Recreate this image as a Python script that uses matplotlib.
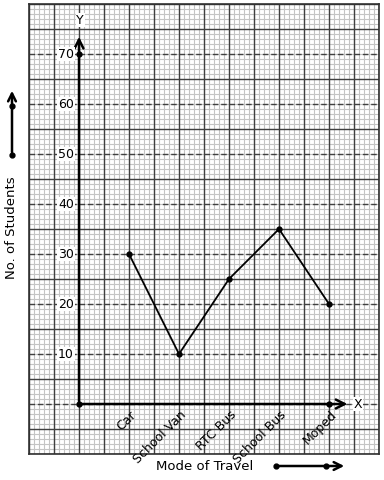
import matplotlib.pyplot as plt
import numpy as np

modes = ['Car', 'School Van', 'RTC Bus', 'School Bus', 'Moped']
students = [30, 10, 25, 35, 20]
positions = [2, 4, 6, 8, 10]
y_labels = [10, 20, 30, 40, 50, 60, 70]

fig = plt.figure(figsize=(3.84, 4.8), dpi=100)

# overlay in pixel coords for the side arrows
ov = fig.add_axes([0, 0, 1, 1])
ov.set_xlim(0, 384)
ov.set_ylim(480, 0)
ov.axis('off')

ax = fig.add_axes([29/384, 26/480, 350/384, 450/480])
ax.set_xlim(-2, 12)
ax.set_ylim(-10, 80)
ax.set_xticks([])
ax.set_yticks([])
for s in ax.spines.values():
    s.set_color('#303030')
    s.set_linewidth(1.2)

# graph paper
for x in np.arange(-2, 12.01, 0.2):
    ax.axvline(x, color='#c4c4c4', lw=0.8, zorder=0)
for y in np.arange(-10, 80.01, 1):
    ax.axhline(y, color='#c4c4c4', lw=0.8, zorder=0)
for x in range(-2, 13):
    ax.axvline(x, color='#404040', lw=1.0, zorder=1)
for y in range(-10, 81, 5):
    if y % 10 == 0 and 0 <= y <= 70:
        ax.axhline(y, color='#404040', lw=1.0, ls=(0, (4, 2)), zorder=1)
    else:
        ax.axhline(y, color='#404040', lw=1.0, zorder=1)

# axes with arrows
ax.annotate('', xy=(0, 74), xytext=(0, 0),
            arrowprops=dict(arrowstyle='->', lw=1.8, color='black', mutation_scale=16), zorder=3)
ax.annotate('', xy=(10.85, 0), xytext=(0, 0),
            arrowprops=dict(arrowstyle='->', lw=1.8, color='black', mutation_scale=16), zorder=3)
ax.plot([0, 0, 10], [70, 0, 0], 'o', color='black', ms=3.5, zorder=4)
ax.text(0.05, 76.8, 'Y', ha='center', va='center', fontsize=9,
        bbox=dict(facecolor='white', edgecolor='none', pad=0.5), zorder=3)
ax.text(11.15, 0, 'X', ha='center', va='center', fontsize=9,
        bbox=dict(facecolor='white', edgecolor='none', pad=0.5), zorder=3)

for v in y_labels:
    ax.text(-0.2, v, str(v), ha='right', va='center', fontsize=9,
            bbox=dict(facecolor='white', edgecolor='none', pad=0.5), zorder=3)

for p, m in zip(positions, modes):
    ax.text(p + 0.22, -1.8, m, rotation=45, rotation_mode='anchor', ha='right', va='center',
            fontsize=9, zorder=3)

ax.plot(positions, students, '-o', color='black', lw=1.3, ms=3.5, zorder=4)

# labels and side arrows
fig.text(205/384, 1 - 466/480, 'Mode of Travel', ha='center', va='center', fontsize=9.5)
fig.text(12/384, 1 - 228/480, 'No. of Students', ha='center', va='center', fontsize=9.5, rotation=90)

ov.annotate('', xy=(12, 88), xytext=(12, 155),
            arrowprops=dict(arrowstyle='->', lw=1.8, color='black', mutation_scale=14))
ov.plot([12, 12], [106, 155], 'o', color='black', ms=3.5, zorder=6, clip_on=False)
ov.annotate('', xy=(347, 466), xytext=(276, 466),
            arrowprops=dict(arrowstyle='->', lw=1.8, color='black', mutation_scale=14))
ov.plot([276, 326], [466, 466], 'o', color='black', ms=3.5, zorder=6, clip_on=False)

fig.savefig('out.png', dpi=100)
